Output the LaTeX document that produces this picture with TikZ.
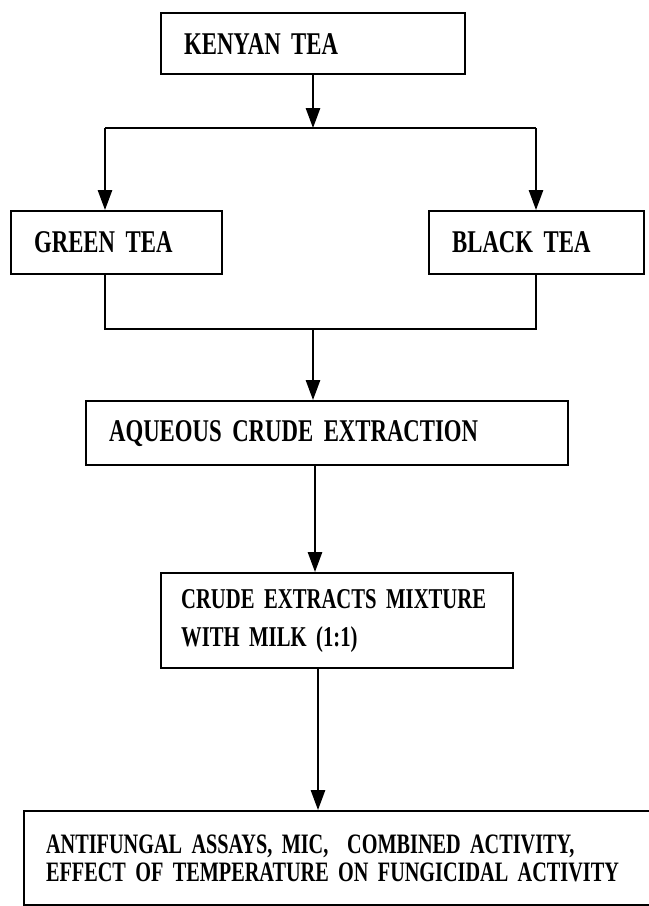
\documentclass[tikz,border=0pt]{standalone}
\usepackage{fontspec}
\usetikzlibrary{arrows.meta}
\newfontfamily\boxfont[FakeStretch=0.72]{Liberation Serif}
\DeclareRobustCommand\boxsize[2]{\boxfont\bfseries\fontsize{#1}{#2}\selectfont}

\begin{document}
\begin{tikzpicture}[x=0.3mm, y=-0.3mm,
	flowbox/.style={draw, line width=1.9pt, anchor=north west, align=left, inner xsep=6.9mm, inner ysep=0pt},
	big/.style={font=\boxsize{27}{32}},
	mid/.style={font=\boxsize{24.5}{32.5}},
	small/.style={font=\boxsize{24}{24}},
	flow/.style={line width=1.5pt},
	arr/.style={flow, -{Triangle[length=6mm, width=4.3mm]}}]
	\useasboundingbox (0,0) rectangle (649,906);

	\node[flowbox, big, text width=77.4mm, minimum height=18.3mm] (kenyan) at (160,12) {KENYAN TEA};
	\node[flowbox, big, text width=49.5mm, minimum height=18.9mm] (green) at (10,210) {GREEN TEA};
	\node[flowbox, big, text width=50.7mm, minimum height=18.9mm] (black) at (428,210) {BLACK TEA};
	\node[flowbox, big, text width=130.8mm, minimum height=19.2mm] (aqueous) at (85,400) {AQUEOUS CRUDE EXTRACTION};
	\node[flowbox, mid, inner xsep=6mm, text width=93.6mm, minimum height=28.5mm] (crude) at (160,572) {CRUDE EXTRACTS MIXTURE\\WITH MILK (1:1)};
	\node[flowbox, small, inner xsep=6.6mm, text width=180mm, minimum height=28.2mm] (assays) at (23,810) {ANTIFUNGAL ASSAYS, MIC,\ \ COMBINED ACTIVITY,\\EFFECT OF TEMPERATURE ON FUNGICIDAL ACTIVITY};

	\coordinate (fork) at (313,128);
	\coordinate (forkL) at (105,128);
	\coordinate (forkR) at (536,128);
	\coordinate (join) at (313,329);
	\coordinate (joinL) at (105,329);
	\coordinate (joinR) at (536,329);
	\coordinate (stemA) at (315,0);
	\coordinate (stemB) at (318,0);

	\draw[arr] (kenyan.south -| fork) -- (fork);
	\draw[flow] (forkL) -- (forkR);
	\draw[arr] (forkL) -- (forkL |- green.north);
	\draw[arr] (forkR) -- (forkR |- black.north);
	\draw[flow] (green.south -| joinL) -- (joinL) -- (joinR) -- (black.south -| joinR);
	\draw[arr] (join) -- (join |- aqueous.north);
	\draw[arr] (aqueous.south -| stemA) -- (crude.north -| stemA);
	\draw[arr] (crude.south -| stemB) -- (assays.north -| stemB);
\end{tikzpicture}
\end{document}
